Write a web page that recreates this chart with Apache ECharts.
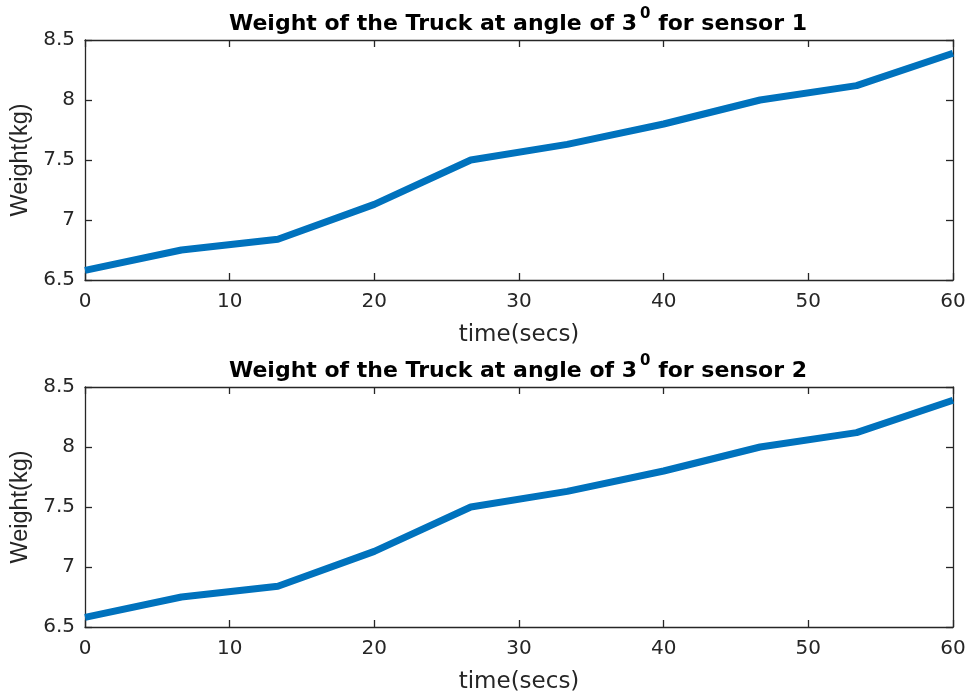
<!DOCTYPE html>
<html>
<head>
<meta charset="utf-8">
<script src="https://cdn.jsdelivr.net/npm/echarts@6/dist/echarts.min.js"></script>
<style>html,body{margin:0;padding:0;background:#fff}#c{width:970px;height:695px}</style>
</head>
<body>
<div id="c"></div>
<script>
var timeSecs = [0, 6.667, 13.333, 20, 26.667, 33.333, 40, 46.667, 53.333, 60];
var sensor1 = [6.58, 6.75, 6.84, 7.13, 7.50, 7.63, 7.80, 8.00, 8.12, 8.39];
var sensor2 = [6.58, 6.75, 6.84, 7.13, 7.50, 7.63, 7.80, 8.00, 8.12, 8.39];
var titles = ['Weight of the Truck at angle of 3', 'Weight of the Truck at angle of 3'];
var titleSuffix = [' for sensor 1', ' for sensor 2'];
var xName = 'time(secs)';
var yName = 'Weight(kg)';

var FONT = '"DejaVu Sans", "Liberation Sans", sans-serif';
var FONT2 = '"Liberation Sans", Arial, sans-serif';
var AX = '#262626';
var chart = echarts.init(document.getElementById('c'), null, {renderer: 'canvas'});

function pairs(xs, ys) { return xs.map(function (x, i) { return [x, ys[i]]; }); }

var grids = [
  {left: 85, right: 17, top: 40, height: 240},
  {left: 85, right: 17, top: 387, height: 240}
];
var xAxes = [], yAxes = [], series = [], titleArr = [];
var data = [sensor1, sensor2];
var titleTops = [0, 347];
for (var g = 0; g < 2; g++) {
  xAxes.push({
    gridIndex: g, type: 'value', min: 0, max: 60, interval: 10, position: 'bottom',
    name: xName, nameLocation: 'middle', nameGap: 44,
    nameTextStyle: {fontFamily: FONT, fontSize: 23, color: AX},
    axisLine: {show: true, onZero: false, lineStyle: {color: AX, width: 1.3}},
    axisTick: {show: true, inside: true, length: 7, lineStyle: {color: AX, width: 1.3}},
    axisLabel: {fontFamily: FONT, fontSize: 20, color: AX, margin: 12},
    splitLine: {show: false}
  });
  xAxes.push({
    gridIndex: g, type: 'value', min: 0, max: 60, interval: 10, position: 'top',
    axisLine: {show: true, onZero: false, lineStyle: {color: AX, width: 1.3}},
    axisTick: {show: true, inside: true, length: 7, lineStyle: {color: AX, width: 1.3}},
    axisLabel: {show: false}, splitLine: {show: false}
  });
  yAxes.push({
    gridIndex: g, type: 'value', min: 6.5, max: 8.5, interval: 0.5, position: 'left',
    name: yName, nameLocation: 'middle', nameGap: 49,
    nameTextStyle: {fontFamily: FONT2, fontSize: 23.5, color: AX},
    axisLine: {show: true, onZero: false, lineStyle: {color: AX, width: 1.3}},
    axisTick: {show: true, inside: true, length: 7, lineStyle: {color: AX, width: 1.3}},
    axisLabel: {fontFamily: FONT, fontSize: 20, color: AX, margin: 10},
    splitLine: {show: false}
  });
  yAxes.push({
    gridIndex: g, type: 'value', min: 6.5, max: 8.5, interval: 0.5, position: 'right',
    axisLine: {show: true, onZero: false, lineStyle: {color: AX, width: 1.3}},
    axisTick: {show: true, inside: true, length: 7, lineStyle: {color: AX, width: 1.3}},
    axisLabel: {show: false}, splitLine: {show: false}
  });
  series.push({
    type: 'line', xAxisIndex: g * 2, yAxisIndex: g * 2,
    data: pairs(timeSecs, data[g]), showSymbol: false, symbol: 'none',
    lineStyle: {color: '#0072BD', width: 7}, animation: false
  });
  titleArr.push({
    left: 513, top: titleTops[g], textAlign: 'center',
    text: '{m|' + titles[g] + '}{s|0}{m|' + titleSuffix[g] + '}',
    textStyle: {
      rich: {
        m: {fontFamily: FONT, fontWeight: 'bold', fontSize: 22, color: '#000', lineHeight: 30, verticalAlign: 'bottom'},
        s: {fontFamily: FONT, fontWeight: 'bold', fontSize: 15, color: '#000', lineHeight: 30, verticalAlign: 'top', padding: [2, 0, 0, 3]}
      }
    }
  });
}

chart.setOption({
  animation: false,
  backgroundColor: '#fff',
  title: titleArr,
  grid: grids,
  xAxis: xAxes,
  yAxis: yAxes,
  series: series
});
</script>
</body>
</html>
